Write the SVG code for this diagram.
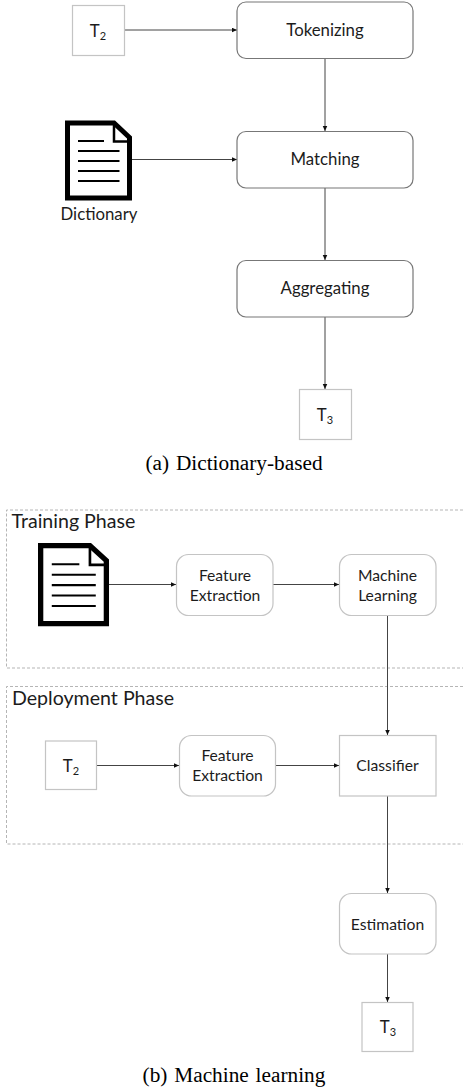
<svg xmlns="http://www.w3.org/2000/svg" width="463" height="1088" viewBox="0 0 463 1088">
<style>
text{font-family:Lato,"Open Sans",sans-serif;fill:#1c1c1c;text-anchor:middle}
.l{font-size:16.800px}
.m{font-size:15.700px}
.ph{font-size:19.600px;text-anchor:start}
.sub{font-size:11px}
.cap{font-family:"Liberation Serif",serif;font-size:21.300px;fill:#000;word-spacing:1.500px}
.r1{fill:#fff;stroke:#777;stroke-width:1.2}
.r2{fill:#fff;stroke:#c4c4c4;stroke-width:1.2}
.ph-box{fill:none;stroke:#b5b5b5;stroke-width:1;stroke-dasharray:3 2}
.c{fill:none;stroke:#444;stroke-width:1;marker-end:url(#a)}
.doc{fill:#fff;stroke:#000;stroke-width:5}
.ln{stroke:#000;stroke-width:2}
</style>
<defs>
<marker id="a" markerWidth="6" markerHeight="6" refX="5.500" refY="2.500" orient="auto" markerUnits="userSpaceOnUse"><path d="M0 0L5.500 2.500L0 5z" fill="#111"/></marker>
<g id="docicon">
<path class="doc" d="M2.500 2.500H49L64.500 17V77.500H2.500z"/>
<path class="doc" style="stroke-width:2.500;fill:none" d="M49 2.500V21H64.500"/>
<path class="ln" d="M13 20.500H39M13 30.500H54.500M13 40.500H54.500M13 50.500H54.500M13 60.500H54.500"/>
</g>
</defs>
<g id="phases">
<path class="ph-box" d="M463 510H6.500V668H463"/>
<path class="ph-box" d="M463 686.500H6.500V844H463"/>
<text class="ph" x="11.500" y="528">Training Phase</text>
<text class="ph" x="12" y="705">Deployment Phase</text>
</g>
<g id="connectors">
<path class="c" d="M124 30H237"/>
<path class="c" d="M132 159.500H237"/>
<path class="c" d="M325 59V131"/>
<path class="c" d="M325 188V260"/>
<path class="c" d="M325 317V389"/>
<path class="c" d="M109 584.500H176"/>
<path class="c" d="M273 584.500H339"/>
<path class="c" d="M387.500 615V735"/>
<path class="c" d="M96 765.500H179"/>
<path class="c" d="M275 765.500H339"/>
<path class="c" d="M387.500 796V893"/>
<path class="c" d="M387.500 954V1002"/>
</g>
<g id="t2a"><rect class="r2" x="72.500" y="5.500" width="52" height="50"/><text class="l" x="98" y="37">T<tspan class="sub" dy="3">2</tspan></text></g>
<g id="tokenizing"><rect class="r1" x="237" y="2" width="176" height="56.500" rx="9"/><text class="l" x="325" y="36">Tokenizing</text></g>
<g id="dictionary"><use href="#docicon" x="65" y="120.500"/><text class="l" x="99" y="220">Dictionary</text></g>
<g id="matching"><rect class="r1" x="237" y="131.500" width="176" height="56.500" rx="9"/><text class="l" x="325" y="165">Matching</text></g>
<g id="aggregating"><rect class="r1" x="237" y="260.500" width="176" height="56.500" rx="9"/><text class="l" x="325" y="294">Aggregating</text></g>
<g id="t3a"><rect class="r2" x="299.500" y="389.500" width="52" height="50"/><text class="l" x="325" y="421">T<tspan class="sub" dy="3">3</tspan></text></g>
<text class="cap" x="234" y="469.500">(a) Dictionary-based</text>
<g id="trainingdoc"><use href="#docicon" transform="translate(38 543) scale(1.060 1.040)"/></g>
<g id="fe1"><rect class="r2" x="176.500" y="554.500" width="96.500" height="61" rx="12"/><text class="m" x="225" y="581">Feature</text><text class="m" x="225" y="600.500">Extraction</text></g>
<g id="ml"><rect class="r2" x="339.500" y="554.500" width="96.500" height="61" rx="12"/><text class="m" x="387.500" y="581">Machine</text><text class="m" x="387.500" y="600.500">Learning</text></g>
<g id="t2b"><rect class="r2" x="45.500" y="741" width="51" height="48.500"/><text class="l" x="71" y="772">T<tspan class="sub" dy="3">2</tspan></text></g>
<g id="fe2"><rect class="r2" x="179.500" y="735.500" width="96" height="60.500" rx="12"/><text class="m" x="227.500" y="761">Feature</text><text class="m" x="227.500" y="780.500">Extraction</text></g>
<g id="classifier"><rect class="r2" x="339.500" y="735.500" width="96.500" height="60.500"/><text class="m" x="387.500" y="770.500">Classifier</text></g>
<g id="estimation"><rect class="r2" x="339.500" y="893.500" width="96.500" height="60.500" rx="12"/><text class="m" x="387.500" y="929.500">Estimation</text></g>
<g id="t3b"><rect class="r2" x="362" y="1002.500" width="51" height="49"/><text class="l" x="388" y="1033">T<tspan class="sub" dy="3">3</tspan></text></g>
<text class="cap" x="234" y="1082">(b) Machine learning</text>
</svg>
